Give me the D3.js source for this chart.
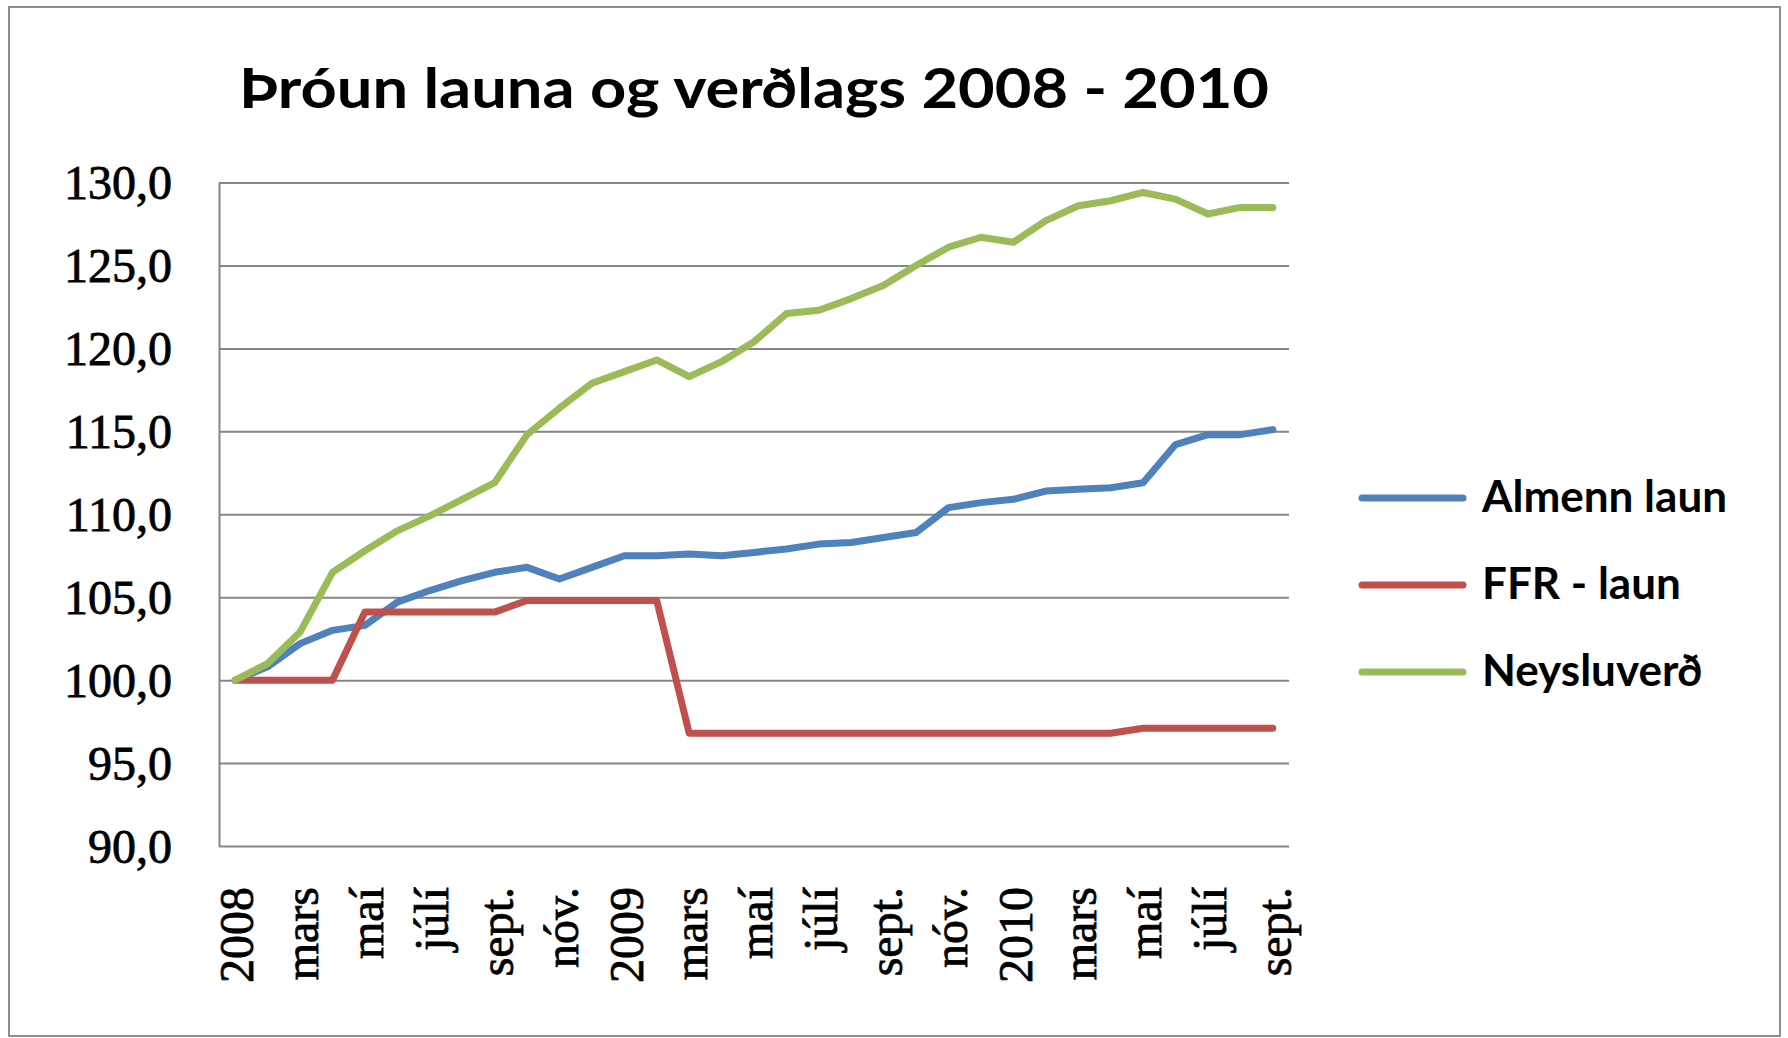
<!DOCTYPE html>
<html><head><meta charset="utf-8">
<script src="https://cdn.jsdelivr.net/npm/d3@7"></script>
<style>html,body{margin:0;padding:0;background:#fff;} svg{display:block}</style>
</head><body><svg id="chart" width="1788" height="1038"></svg>
<script>
// ---- data ----
const title = "Þróun launa og verðlags 2008 - 2010";
const monthLabels = ["2008","feb.","mars","apríl","maí","júní","júlí","ágúst","sept.","okt.","nóv.","des.",
  "2009","feb.","mars","apríl","maí","júní","júlí","ágúst","sept.","okt.","nóv.","des.",
  "2010","feb.","mars","apríl","maí","júní","júlí","ágúst","sept."];
const shownTicks = [0,2,4,6,8,10,12,14,16,18,20,22,24,26,28,30,32];
const yTicks = [90,95,100,105,110,115,120,125,130];
const seriesNames = ["Almenn laun","FFR - laun","Neysluverð"];
const almennLaun = [100.0,100.8,102.2,103.0,103.3,104.7,105.4,106.0,106.5,106.8,106.1,106.8,
  107.5,107.5,107.6,107.5,107.7,107.9,108.2,108.3,108.6,108.9,110.4,110.7,
  110.9,111.4,111.5,111.6,111.9,114.2,114.8,114.8,115.1];
const ffrLaun = [100.0,100.0,100.0,100.0,104.1,104.1,104.1,104.1,104.1,104.8,104.8,104.8,
  104.8,104.8,96.8,96.8,96.8,96.8,96.8,96.8,96.8,96.8,96.8,96.8,
  96.8,96.8,96.8,96.8,97.1,97.1,97.1,97.1,97.1];
const neysluverd = [100.0,101.0,102.9,106.5,107.8,109.0,109.9,110.9,111.9,114.8,116.4,117.9,
  118.6,119.3,118.3,119.2,120.4,122.1,122.3,123.0,123.8,125.0,126.1,126.7,
  126.4,127.7,128.6,128.9,129.4,129.0,128.1,128.5,128.5];
const seriesValues = [almennLaun, ffrLaun, neysluverd];
const seriesColors = ["#4F81BD","#C0504D","#9BBB59"];

// ---- layout ----
const svg = d3.select("#chart");
const L = 219, R = 1289, T = 182.5, B = 846;
const gridColor = "#868686";

svg.append("rect").attr("x",9).attr("y",7).attr("width",1771).attr("height",1029)
  .attr("fill","#fff").attr("stroke","#8e8e8e").attr("stroke-width",2);

const x = d3.scaleBand().domain(d3.range(monthLabels.length)).range([L,R]);
const y = d3.scaleLinear().domain([90,130]).range([B,T]);
const cx = i => x(i) + x.bandwidth()/2;

// title
svg.append("text").attr("x",(239+1269)/2).attr("y",108)
  .attr("text-anchor","middle").attr("font-family","Lato").attr("font-weight","bold")
  .attr("font-size",56).attr("textLength",1030).attr("lengthAdjust","spacingAndGlyphs")
  .attr("fill","#000").text(title);

// y axis with gridlines
const yAxis = svg.append("g").attr("transform",`translate(${L},0)`)
  .call(d3.axisLeft(y).tickValues(yTicks).tickSize(-(R-L)).tickSizeOuter(0).tickPadding(47)
    .tickFormat(d => d.toFixed(1).replace(".", ",")));
yAxis.select(".domain").attr("stroke",gridColor).attr("stroke-width",2);
yAxis.selectAll(".tick line").attr("stroke",gridColor).attr("stroke-width",2);
yAxis.selectAll(".tick text").attr("font-family","Liberation Serif").attr("font-size",48)
  .attr("fill","#000").attr("stroke","#000").attr("stroke-width",0.8).attr("dy","0.34em");

// x axis labels
const xAxis = svg.append("g").attr("transform",`translate(0,${B})`)
  .call(d3.axisBottom(x).tickValues(shownTicks).tickSize(0).tickFormat(i => monthLabels[i]));
xAxis.select(".domain").remove();
xAxis.selectAll(".tick text").attr("transform","rotate(-90)")
  .attr("x",-41).attr("y",0).attr("dy","0.38em").attr("text-anchor","end")
  .attr("font-family","Liberation Serif").attr("font-size",48)
  .attr("fill","#000").attr("stroke","#000").attr("stroke-width",0.8);

// lines
const line = d3.line().x((d,i) => cx(i)).y(d => y(d));
seriesValues.forEach((vals, k) => {
  svg.append("path").datum(vals).attr("d",line).attr("fill","none")
    .attr("stroke",seriesColors[k]).attr("stroke-width",7)
    .attr("stroke-linejoin","round").attr("stroke-linecap","round");
});

// legend
const legendY = [498, 585, 672];
seriesNames.forEach((name, k) => {
  svg.append("line").attr("x1",1362).attr("x2",1463).attr("y1",legendY[k]).attr("y2",legendY[k])
    .attr("stroke",seriesColors[k]).attr("stroke-width",7).attr("stroke-linecap","round");
  svg.append("text").attr("x",1482).attr("y",legendY[k]+14)
    .attr("font-family","Lato").attr("font-weight","bold").attr("font-size",44)
    .attr("fill","#000").text(name);
});
</script>
</body></html>
